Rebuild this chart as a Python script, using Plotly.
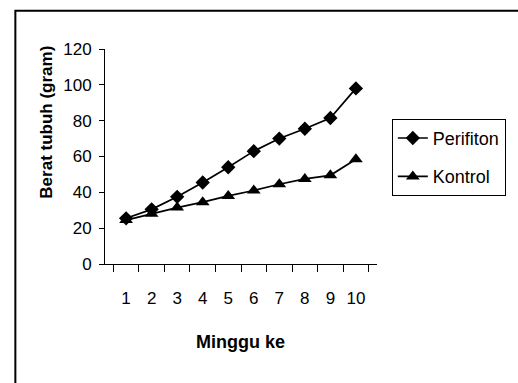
import plotly.graph_objects as go

weeks = ["1", "2", "3", "4", "5", "6", "7", "8", "9", "10"]
perifiton = [25.5, 30.5, 37.5, 45.5, 54, 63, 70, 75.5, 81.5, 98]
kontrol = [24.5, 28, 31.5, 34.5, 38, 41, 44.5, 47.5, 49.5, 58.5]
y_ticks = [0, 20, 40, 60, 80, 100, 120]

FONT = "Liberation Sans, Arial, sans-serif"

W, H = 518, 383
L, R, T, B = 105, 385.7, 49.3, 264.0

def px(x):
    return (x - L) / (R - L)

def py(y):
    return (B - y) / (B - T)

fig = go.Figure()
fig.add_trace(go.Scatter(x=weeks, y=perifiton, name="Perifiton", mode="lines+markers",
                         line=dict(color="black", width=1.7),
                         marker=dict(symbol="diamond", size=11, color="black"),
                         legendgroup="a"))
fig.add_trace(go.Scatter(x=weeks, y=kontrol, name="Kontrol", mode="lines+markers",
                         line=dict(color="black", width=1.7),
                         marker=dict(symbol="triangle-up", size=12, color="black"),
                         legendgroup="b"))

fig.update_layout(
    width=W, height=H,
    margin=dict(l=L, r=W - R, t=T, b=H - B, pad=0),
    paper_bgcolor="white", plot_bgcolor="white",
    font=dict(family=FONT, size=17, color="black"),
    showlegend=True,
    legend=dict(x=px(401), y=py(119), xanchor="left", yanchor="top",
                bordercolor="black", borderwidth=1, bgcolor="white",
                tracegroupgap=12, font=dict(size=18), entrywidth=85),
    xaxis=dict(type="category", showline=True, linecolor="black", linewidth=1,
               ticks="outside", ticklen=7, tickcolor="black", tickson="boundaries",
               tickangle=0, showgrid=False, zeroline=False, ticklabelstandoff=19),
    yaxis=dict(range=[0, 120], tickvals=y_ticks, showline=True, linecolor="black",
               linewidth=1, ticks="outside", ticklen=5, tickcolor="black",
               showgrid=False, zeroline=False, ticklabelstandoff=4),
    annotations=[
        dict(text="<b>Minggu ke</b>", x=px(245), y=py(342), xref="paper", yref="paper",
             xanchor="center", yanchor="middle", showarrow=False, font=dict(size=18)),
        dict(text="<b>Berat tubuh (gram)</b>", x=px(45), y=py(122), xref="paper", yref="paper",
             xanchor="center", yanchor="middle", showarrow=False, textangle=-90,
             font=dict(size=17)),
    ],
    shapes=[
        dict(type="rect", xref="paper", yref="paper", x0=px(12.5), y0=py(11), x1=px(540),
             y1=py(400), line=dict(color="black", width=2), layer="below"),
    ],
)

fig.write_html("out.html")
